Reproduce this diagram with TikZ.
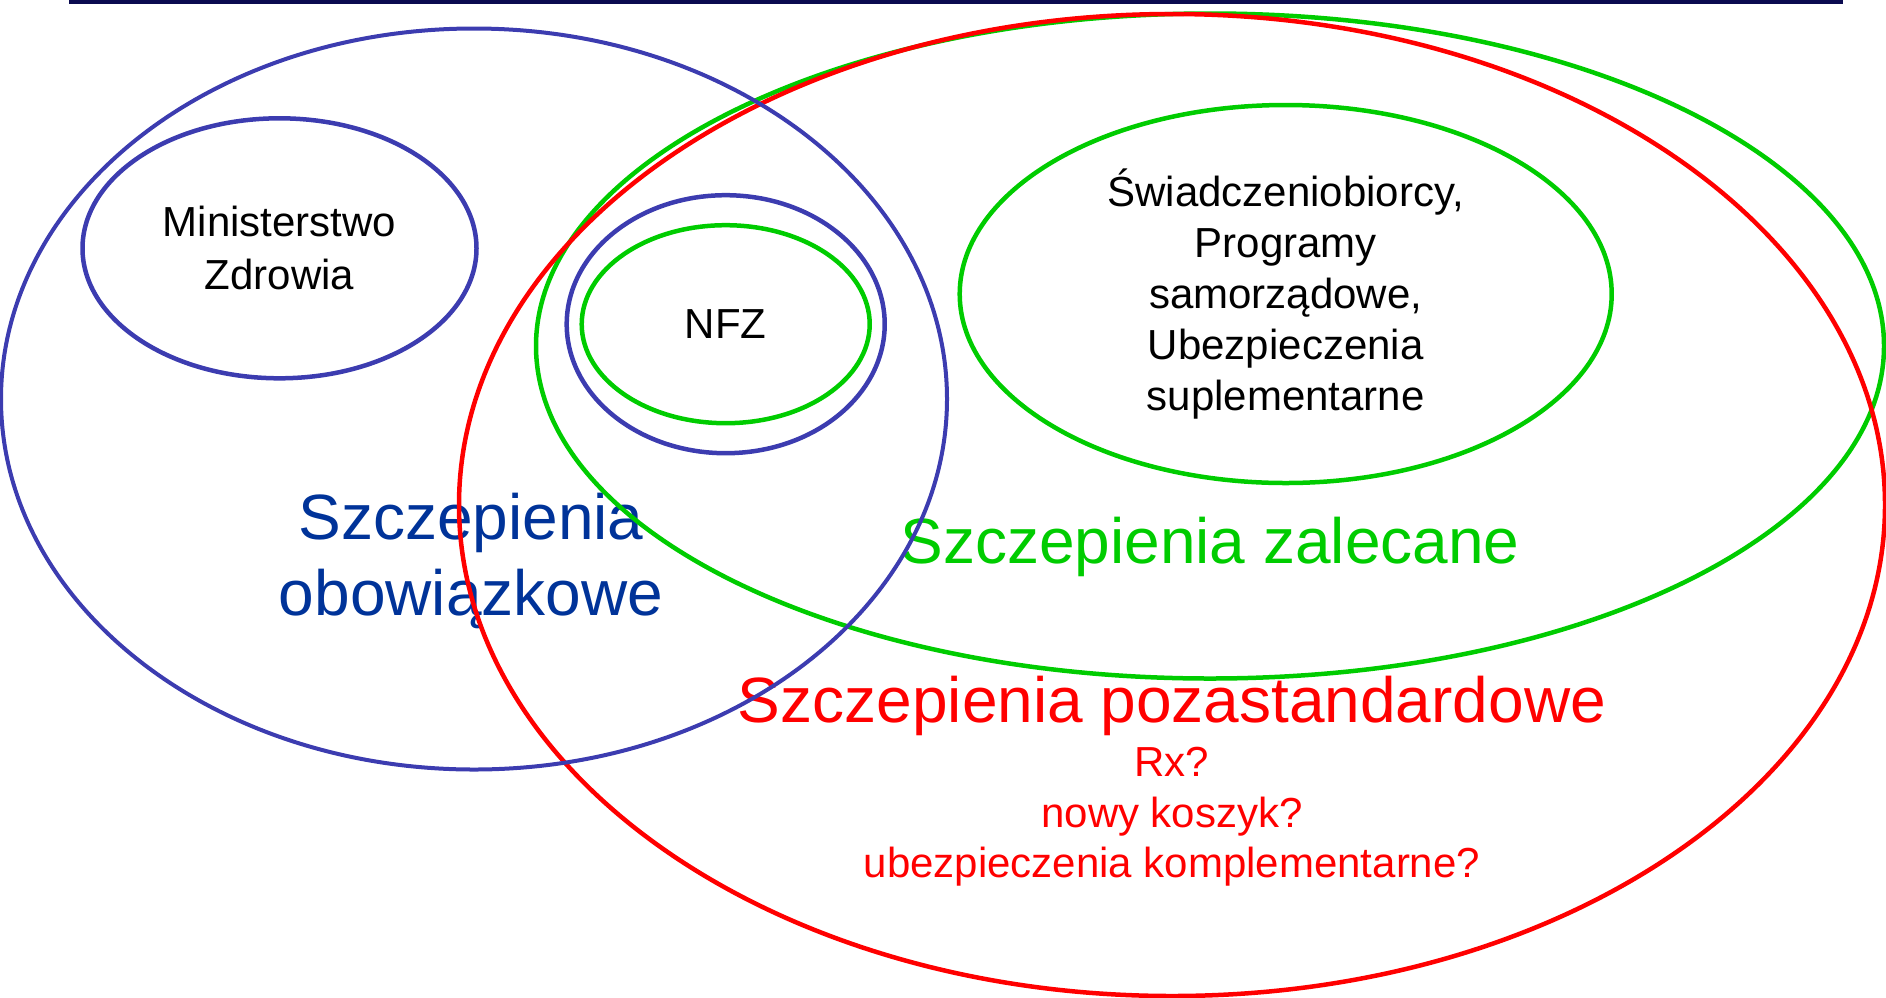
\documentclass[tikz,border=0pt]{standalone}
\usepackage{fontspec}
\setmainfont{Liberation Sans}
\usetikzlibrary{shapes.geometric,positioning}

\definecolor{ringblue}{RGB}{60,60,176}
\definecolor{textblue}{RGB}{0,51,153}
\definecolor{ringgreen}{RGB}{0,204,0}
\definecolor{ringred}{RGB}{255,0,0}
\definecolor{rulenavy}{RGB}{10,10,80}

\begin{document}
\begin{tikzpicture}[x=1pt,y=-1pt]

\tikzset{ring/.style={ellipse,draw,line width=4.5pt,inner sep=0pt,align=center,
                      text=black,font=\fontsize{42}{51}\selectfont},
         biglabel/.style={font=\fontsize{64}{76}\selectfont,align=center,inner sep=0pt},
         smalllabel/.style={font=\fontsize{42}{50.5}\selectfont,align=center,inner sep=0pt}}

\useasboundingbox (0,0) rectangle (1886,997);

% rule at the top
\coordinate (ruleL) at (69,2);
\coordinate (ruleR) at (1843,2);
\draw[rulenavy,line width=4pt] (ruleL) -- (ruleR);

% labels of the three groups
\node[biglabel,textblue] (oblig) at (471,561) {Szczepienia\\obowiązkowe};
\node[biglabel,ringgreen,anchor=base] (recom) at (1210,563) {Szczepienia zalecane};
\node[biglabel,ringred,anchor=base] (extra) at (1172,722) {Szczepienia pozastandardowe};
\node[smalllabel,ringred] (quest) at (1172,817) {Rx?\\nowy koszyk?\\ubezpieczenia komplementarne?};

% big sets
\node[ring,draw=ringgreen,minimum width=1348pt,minimum height=665pt] (zalec) at (1210,346) {};
\node[ring,draw=ringred,minimum width=1426pt,minimum height=982pt] (pozast) at (1172,505) {};
\node[ring,draw=ringblue,line width=4pt,minimum width=946pt,minimum height=741pt] (obow) at (474,399) {};

% inner sets
\node[ring,draw=ringblue,minimum width=394pt,minimum height=260pt,
      font=\fontsize{42}{53}\selectfont] (mz) at (279.5,248.3) {Ministerstwo\\Zdrowia};
\node[ring,draw=ringblue,minimum width=318pt,minimum height=258pt] (nfzout) at (725.7,324.2) {};
\node[ring,draw=ringgreen,minimum width=288pt,minimum height=198pt] (nfz) at (725.7,324.2) {NFZ};
\node[ring,draw=ringgreen,minimum width=652pt,minimum height=378pt] (swiad) at (1285.7,294)
     {Świadczeniobiorcy,\\Programy\\samorządowe,\\Ubezpieczenia\\suplementarne};

\end{tikzpicture}
\end{document}
